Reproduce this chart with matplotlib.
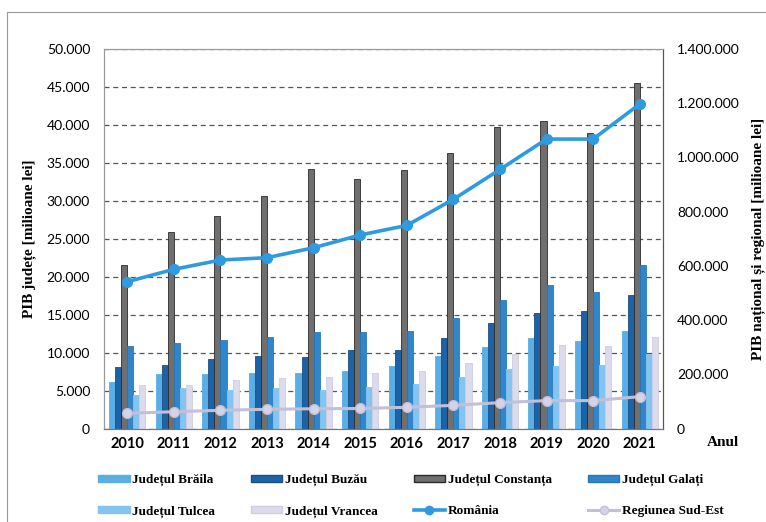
import matplotlib
matplotlib.use("Agg")
import matplotlib.pyplot as plt
import numpy as np
from matplotlib.patches import Patch, Rectangle
from matplotlib.lines import Line2D
from matplotlib.ticker import FuncFormatter, MultipleLocator

years = ["2010", "2011", "2012", "2013", "2014", "2015", "2016", "2017", "2018", "2019", "2020", "2021"]

braila = [6100, 7160, 7240, 7330, 7370, 7630, 8250, 9570, 10790, 11970, 11540, 12900]
buzau = [8080, 8380, 9170, 9570, 9470, 10360, 10360, 11890, 13870, 15180, 15490, 17550]
constanta = [21500, 25900, 27990, 30580, 34130, 32810, 34040, 36240, 39740, 40490, 38900, 45520]
galati = [10880, 11320, 11670, 12110, 12720, 12720, 12850, 14570, 16930, 18910, 17950, 21540]
tulcea = [4430, 5310, 5090, 5310, 5090, 5530, 5880, 6840, 7810, 8290, 8380, 9830]
vrancea = [5750, 5750, 6410, 6630, 6840, 7290, 7590, 8600, 9790, 11010, 10880, 12020]

romania = [541600, 587200, 621500, 630000, 666800, 713600, 749000, 845000, 955000, 1067000, 1067000, 1196000]
sud_est = [56700, 62600, 67800, 71500, 73500, 74500, 78800, 86000, 96000, 103500, 103500, 118000]

labels_bar = ["Județul Brăila", "Județul Buzău", "Județul Constanța", "Județul Galați",
              "Județul Tulcea", "Județul Vrancea"]
bar_data = [braila, buzau, constanta, galati, tulcea, vrancea]
bar_colors = ["#5aaee6", "#1e62a6", "#6f6f6f", "#2f86cb", "#85c4ee", "#dcdbec"]
bar_edges = ["#5aaee6", "#1a4f86", "#2b2b2b", "#2a78b8", "#85c4ee", "#cfcde3"]

fig = plt.figure(figsize=(7.66, 5.22), dpi=100)
ax = fig.add_axes([104/766, 1-428.7/522, (663-104)/766, (428.7-48.7)/522])
ax2 = ax.twinx()

x = np.arange(len(years))
w = 0.13
for i, (vals, c, ec) in enumerate(zip(bar_data, bar_colors, bar_edges)):
    ax.bar(x + (i - 2.5) * w, vals, width=w, color=c, edgecolor=ec, linewidth=0.6, zorder=2)

ax.set_ylim(0, 50000)
ax.set_xlim(-0.5, len(years) - 0.5)
ax.yaxis.set_major_locator(MultipleLocator(5000))
ax.grid(axis="y", linestyle=(0, (4, 3)), color="#555555", linewidth=0.9, zorder=0)
ax.set_axisbelow(True)

ax2.plot(x, romania, color="#2e9be0", linewidth=2.6, marker="o", markersize=7, zorder=5)
ax2.plot(x, sud_est, color="#c4bfd8", linewidth=2.2, marker="o", markersize=7,
         markerfacecolor="#d6d3e6", markeredgecolor="#c4bfd8", zorder=4)
ax2.set_ylim(0, 1400000)
ax2.yaxis.set_major_locator(MultipleLocator(200000))

fmt = FuncFormatter(lambda v, p: f"{int(v):,}".replace(",", "."))
ax.yaxis.set_major_formatter(fmt)
ax2.yaxis.set_major_formatter(fmt)

ax.set_xticks(x)
ax.set_xticklabels(years, fontfamily="Lato", fontweight="bold", fontsize=10.5)
ax.tick_params(axis="x", length=0, pad=6)
ax.tick_params(axis="y", length=0, pad=10, labelsize=10)
ax2.tick_params(axis="y", length=0, pad=10, labelsize=10)
for t in ax.get_yticklabels() + ax2.get_yticklabels():
    t.set_fontfamily("Lato")

for a in (ax, ax2):
    for s in ["left", "top"]:
        a.spines[s].set_color("#9a9a9a")
        a.spines[s].set_linewidth(0.8)
    a.spines["right"].set_color("#555555")
    a.spines["right"].set_linewidth(0.8)
    a.spines["bottom"].set_color("#777777")

serif = "Liberation Serif"
ax.set_ylabel("PIB județe [milioane lei]", fontfamily=serif, fontweight="bold", fontsize=11, labelpad=8)
ax2.set_ylabel("PIB național și regional [milioane lei]", fontfamily=serif, fontweight="bold",
               fontsize=11, labelpad=8)
fig.text(723/766, 1-443/522, "Anul", fontfamily=serif, fontweight="bold", fontsize=11,
         ha="center", va="center")

handles = [Patch(facecolor=c, edgecolor=ec) for c, ec in zip(bar_colors, bar_edges)]
handles += [Line2D([], [], color="#2e9be0", lw=2.6, marker="o", markersize=6),
            Line2D([], [], color="#c4bfd8", lw=2.2, marker="o", markersize=6,
                   markerfacecolor="#d6d3e6")]
labels = labels_bar + ["România", "Regiunea Sud-Est"]
# legend fills column by column, so interleave to get the row layout
order = [0, 4, 1, 5, 2, 6, 3, 7]
fig.legend([handles[i] for i in order], [labels[i] for i in order], ncol=4,
           loc="upper left", bbox_to_anchor=(86/766, 1-462/522), frameon=False,
           prop={"family": serif, "weight": "bold", "size": 9.5},
           handlelength=2.4, handleheight=0.45, columnspacing=2.7, handletextpad=0.2,
           labelspacing=1.45)

fig.patches.append(Rectangle((7/766, -0.1), 1.2, 1.1 - 12/522, transform=fig.transFigure,
                             fill=False, edgecolor="#9a9a9a", linewidth=0.8))

fig.savefig("out.png", dpi=100)
